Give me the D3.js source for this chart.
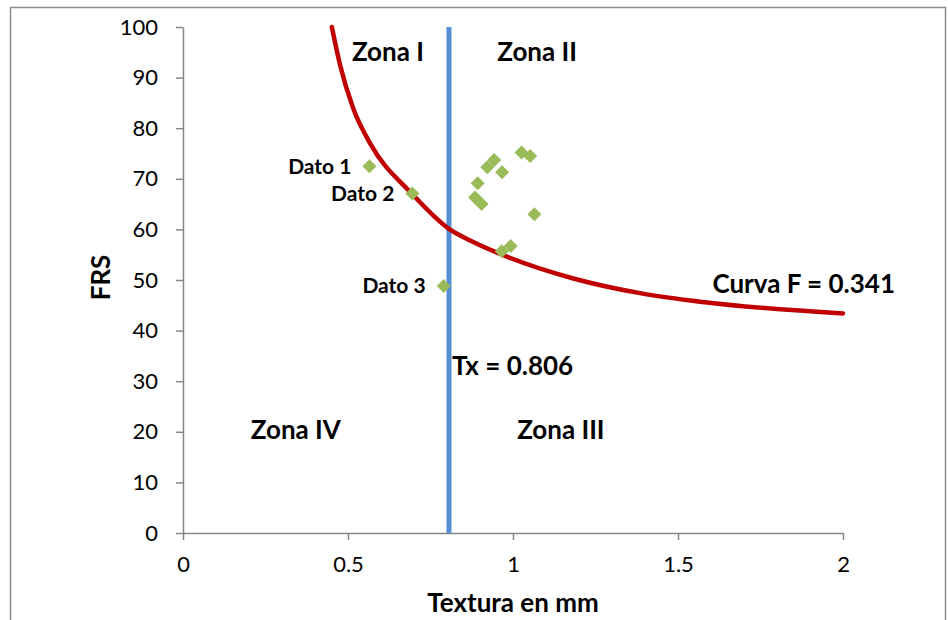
<!DOCTYPE html>
<html>
<head>
<meta charset="utf-8">
<script src="https://cdn.jsdelivr.net/npm/d3@7"></script>
<style>
  body { margin: 0; background: #fff; }
  svg text { font-family: Lato, "Open Sans", sans-serif; }
</style>
</head>
<body>
<div id="chart"></div>
<script>
// datos
let xTicks = [0, 0.5, 1, 1.5, 2];
let yTicks = [0, 10, 20, 30, 40, 50, 60, 70, 80, 90, 100];

// curva F = 0.341 (puntos leidos)
let curvaX = [0.451, 0.476, 0.516, 0.567, 0.693, 0.806, 0.870, 0.963, 1.183, 1.385, 1.567, 2.0];
let curvaY = [100, 92.5, 83.9, 77.0, 67.1, 60.1, 57.8, 55.1, 50.3, 47.4, 45.7, 43.4];

// puntos medidos
let datoX = [0.565, 0.695, 0.790, 1.026, 1.052, 0.922, 0.943, 0.967, 0.893, 0.885, 0.905, 1.065, 0.966, 0.993];
let datoY = [72.5, 67.1, 48.8, 75.2, 74.5, 72.3, 73.7, 71.3, 69.1, 66.3, 65.0, 63.0, 55.7, 56.7];
let datoLabels = ["Dato 1", "Dato 2", "Dato 3"];

let tx = 0.806;
let zonas = [
    {t: "Zona I", x: 0.621, y: 95.1},
    {t: "Zona II", x: 1.073, y: 95.1},
    {t: "Zona IV", x: 0.342, y: 20.4},
    {t: "Zona III", x: 1.145, y: 20.4}
];

let width = 948, height = 620;
let svg = d3.select("#chart").append("svg")
    .attr("width", width)
    .attr("height", height);

// marco
svg.append("rect")
    .attr("x", 10.5).attr("y", 7.5)
    .attr("width", 935).attr("height", 640)
    .attr("fill", "none")
    .attr("stroke", "#8c8c8c")
    .attr("stroke-width", 1.5);

let x = d3.scaleLinear().domain([0, 2]).range([183, 843]);
let y = d3.scaleLinear().domain([0, 100]).range([533, 27]);

let axisColor = "#868686";

let gx = svg.append("g")
    .attr("transform", `translate(0,${y(0)})`)
    .call(d3.axisBottom(x).tickValues(xTicks).tickSize(7).tickSizeOuter(0).tickPadding(16)
        .tickFormat(d => d));
let gy = svg.append("g")
    .attr("transform", `translate(${x(0)},0)`)
    .call(d3.axisLeft(y).tickValues(yTicks).tickSize(7).tickSizeOuter(0).tickPadding(18));

[gx, gy].forEach(g => {
    g.select(".domain").attr("stroke", axisColor).attr("stroke-width", 1.5);
    g.selectAll(".tick line").attr("stroke", axisColor).attr("stroke-width", 1.5);
    g.selectAll(".tick text").attr("fill", "#000").attr("font-size", 22)
        .style("font-family", "Lato, sans-serif");
});

// linea Tx
svg.append("line")
    .attr("x1", x(tx)).attr("x2", x(tx))
    .attr("y1", y(0)).attr("y2", y(100))
    .attr("stroke", "#558ed5")
    .attr("stroke-width", 5);

// curva
let curva = curvaX.map((d, i) => [d, curvaY[i]]);
svg.append("path")
    .datum(curva)
    .attr("d", d3.line().x(d => x(d[0])).y(d => y(d[1])).curve(d3.curveMonotoneX))
    .attr("fill", "none")
    .attr("stroke", "#c00000")
    .attr("stroke-width", 4.5)
    .attr("stroke-linecap", "round");

// puntos (rombos)
let r = 7;
let puntos = datoX.map((d, i) => [d, datoY[i]]);
svg.selectAll(".punto")
    .data(puntos)
    .enter()
    .append("path")
    .attr("class", "punto")
    .attr("d", `M0,${-r}L${r},0L0,${r}L${-r},0Z`)
    .attr("transform", d => `translate(${x(d[0])},${y(d[1])})`)
    .attr("fill", "#9bbb59");

// etiquetas de los datos
svg.selectAll(".dato")
    .data(datoLabels)
    .enter()
    .append("text")
    .attr("class", "dato")
    .attr("x", (d, i) => x(datoX[i]) - 18)
    .attr("y", (d, i) => y(datoY[i]))
    .attr("dy", "0.35em")
    .attr("text-anchor", "end")
    .attr("font-size", 21)
    .attr("font-weight", "bold")
    .text(d => d);

// zonas
svg.selectAll(".zona")
    .data(zonas)
    .enter()
    .append("text")
    .attr("class", "zona")
    .attr("x", d => x(d.x))
    .attr("y", d => y(d.y))
    .attr("dy", "0.35em")
    .attr("text-anchor", "middle")
    .attr("font-size", 26)
    .attr("font-weight", "bold")
    .text(d => d.t);

svg.append("text")
    .attr("x", x(tx) + 3).attr("y", y(33))
    .attr("dy", "0.35em")
    .attr("font-size", 26)
    .attr("font-weight", "bold")
    .text("Tx = " + tx);

svg.append("text")
    .attr("x", x(2) + 52).attr("y", y(49.2))
    .attr("dy", "0.35em")
    .attr("text-anchor", "end")
    .attr("font-size", 26)
    .attr("font-weight", "bold")
    .text("Curva F = 0.341");

// titulos de ejes
svg.append("text")
    .attr("x", (x(0) + x(2)) / 2).attr("y", 603)
    .attr("dy", "0.35em")
    .attr("text-anchor", "middle")
    .attr("font-size", 26)
    .attr("font-weight", "bold")
    .text("Textura en mm");

svg.append("text")
    .attr("transform", `translate(101,${y(50.5)}) rotate(-90)`)
    .attr("dy", "0.35em")
    .attr("text-anchor", "middle")
    .attr("font-size", 26)
    .attr("font-weight", "bold")
    .text("FRS");
</script>
</body>
</html>
